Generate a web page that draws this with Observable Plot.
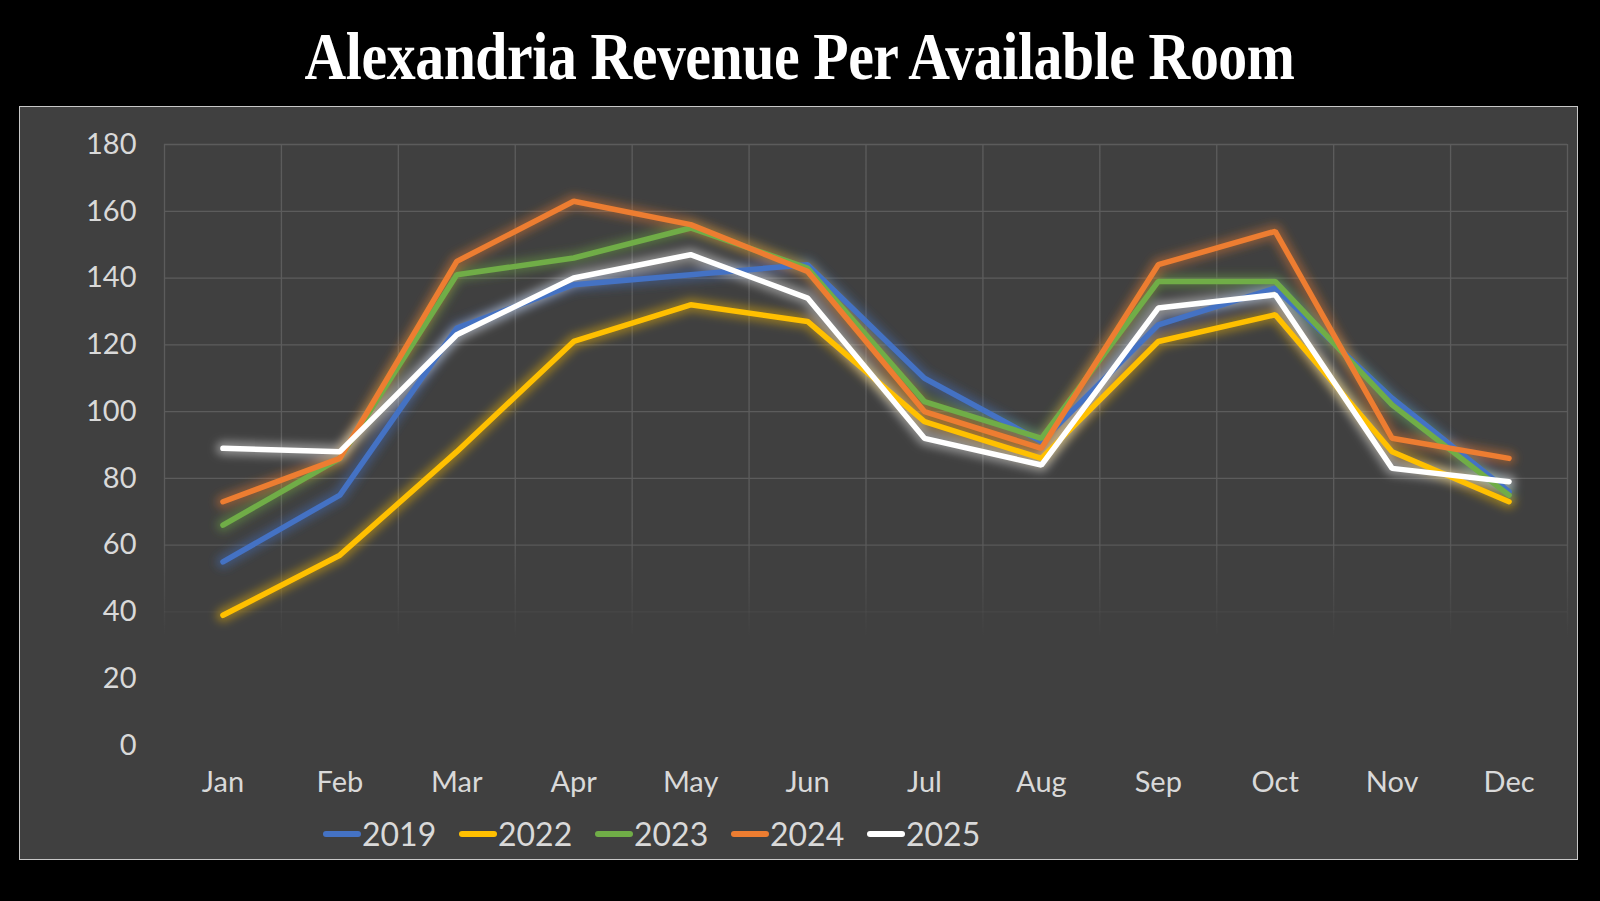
<!DOCTYPE html>
<html>
<head>
<meta charset="utf-8">
<script src="https://cdn.jsdelivr.net/npm/d3@7"></script>
<script src="https://cdn.jsdelivr.net/npm/@observablehq/plot@0.6"></script>
<style>
  html, body { margin: 0; padding: 0; background: #000; }
  body { width: 1600px; height: 901px; overflow: hidden; position: relative; font-family: Lato, "Open Sans", sans-serif; }
  #title { position: absolute; left: 0; top: 22px; width: 1600px; height: 80px; text-align: center; }
  #title span { display: inline-block; font-family: "Liberation Serif", "DejaVu Serif", serif; font-weight: bold; font-size: 68px; line-height: 68px; color: #fff; white-space: nowrap; transform-origin: center; letter-spacing: -0.5px; }
  #panel { position: absolute; left: 19px; top: 106px; width: 1557px; height: 752px; background: #404040; border: 1.5px solid #c8c8c8; }
  #chart { position: absolute; left: 0; top: 0; }
  #legend { position: absolute; left: 303px; top: 707px; display: flex; align-items: center; color: #d9d9d9; font-size: 32px; }
  .item { display: flex; align-items: center; width: 136px; }
  .sw { display: inline-block; width: 38px; height: 6px; border-radius: 3px; margin-right: 1px; }
</style>
</head>
<body>
<div id="title"><span>Alexandria Revenue Per Available Room</span></div>
<div id="panel">
  <div id="chart"></div>
  <div id="legend"></div>
</div>
<script>
const months = ["Jan","Feb","Mar","Apr","May","Jun","Jul","Aug","Sep","Oct","Nov","Dec"];
const years = ["2019","2022","2023","2024","2025"];
const colors = ["#4472C4","#FFC000","#70AD47","#ED7D31","#FFFFFF"];
const yTicks = [0,20,40,60,80,100,120,140,160,180];

const v2019 = [55, 75, 125, 138, 141, 144, 110, 91, 126, 137, 104, 76];
const v2022 = [39, 57, 88, 121, 132, 127, 97, 86, 121, 129, 88, 73];
const v2023 = [66, 86, 141, 146, 155, 143, 103, 92, 139, 139, 102, 75];
const v2024 = [73, 86, 145, 163, 156, 142, 100, 89, 144, 154, 92, 86];
const v2025 = [89, 88, 123, 140, 147, 134, 92, 84, 131, 135, 83, 79];

const series = [v2019, v2022, v2023, v2024, v2025];
const data = [];
series.forEach((vals, s) => vals.forEach((v, i) => data.push({year: years[s], idx: i + 0.5, month: months[i], value: v})));

const boundaries = d3.range(0, months.length + 1);

const chart = Plot.plot({
  width: 1557,
  height: 700,
  marginLeft: 144,
  marginRight: 10,
  marginTop: 37,
  marginBottom: 62,
  style: { background: "transparent", color: "#d9d9d9", fontFamily: "Lato, 'Open Sans', sans-serif", fontSize: "29px" },
  x: { type: "linear", domain: [0, months.length] },
  y: { domain: [0, 180] },
  color: { domain: years, range: colors },
  marks: [
    Plot.ruleY(yTicks, { stroke: "url(#gridFade)", strokeWidth: 1.3 }),
    Plot.ruleX(boundaries, { stroke: "url(#gridFade)", strokeWidth: 1.3 }),
    Plot.axisY({ ticks: yTicks, tickSize: 0, tickPadding: 28, label: null, fontSize: 29, fill: "#d9d9d9" }),
    Plot.axisX({ ticks: months.map((m, i) => i + 0.5), tickFormat: d => months[Math.floor(d)], tickSize: 0, tickPadding: 26, label: null, fontSize: 29, fill: "#d9d9d9" }),
    Plot.line(data, { x: "idx", y: "value", z: "year", stroke: "year", strokeWidth: 14, strokeOpacity: 0.4, strokeLinejoin: "round", strokeLinecap: "round" }),
    Plot.line(data, { x: "idx", y: "value", z: "year", stroke: "year", strokeWidth: 5.5, strokeLinejoin: "miter", strokeLinecap: "round" })
  ]
});

document.getElementById("chart").appendChild(chart);

// defs: grid fade gradient and glow blur
const ys = chart.scale("y");
const ns = "http://www.w3.org/2000/svg";
const defs = document.createElementNS(ns, "defs");
defs.innerHTML = `
  <linearGradient id="gridFade" gradientUnits="userSpaceOnUse" x1="0" x2="0" y1="${ys.apply(180)}" y2="${ys.apply(0)}">
    <stop offset="0" stop-color="#5c5c5c" stop-opacity="1"/>
    <stop offset="0.64" stop-color="#5c5c5c" stop-opacity="1"/>
    <stop offset="0.82" stop-color="#5c5c5c" stop-opacity="0"/>
    <stop offset="1" stop-color="#5c5c5c" stop-opacity="0"/>
  </linearGradient>
  <filter id="glow" x="-10%" y="-10%" width="120%" height="120%">
    <feGaussianBlur stdDeviation="4"/>
  </filter>`;
chart.insertBefore(defs, chart.firstChild);
const lineGroups = chart.querySelectorAll('g[aria-label="line"]');
if (lineGroups.length) lineGroups[0].setAttribute("filter", "url(#glow)");

// legend
const legend = document.getElementById("legend");
years.forEach((y, i) => {
  const it = document.createElement("div");
  it.className = "item";
  it.innerHTML = `<span class="sw" style="background:${colors[i]}"></span><span>${y}</span>`;
  legend.appendChild(it);
});

// fit title width
const t = document.querySelector("#title span");
const w = t.getBoundingClientRect().width;
t.style.transform = `scaleX(${990 / w})`;
</script>
</body>
</html>
